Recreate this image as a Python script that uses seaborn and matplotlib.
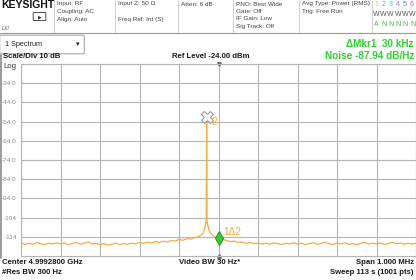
import numpy as np
import pandas as pd
import matplotlib
matplotlib.use("Agg")
import matplotlib.pyplot as plt
import seaborn as sns
from matplotlib.patches import FancyBboxPatch
from matplotlib.lines import Line2D

# trace: offset from center (MHz) and level (dBm)
freq_mhz = [
    -0.50, -0.49, -0.48, -0.47, -0.46, -0.45, -0.44, -0.43, -0.42, -0.41,
    -0.40, -0.39, -0.38, -0.37, -0.36, -0.35, -0.34, -0.33, -0.32, -0.31,
    -0.30, -0.29, -0.28, -0.27, -0.26, -0.25, -0.24, -0.23, -0.22, -0.21,
    -0.20, -0.19, -0.18, -0.17, -0.16, -0.15, -0.14, -0.13, -0.12, -0.11,
    -0.10, -0.09, -0.08, -0.07, -0.06, -0.05, -0.045, -0.04, -0.036, -0.034,
    -0.032, -0.031, -0.030, -0.029, -0.028, -0.026, -0.024, -0.02, -0.015, -0.01,
    -0.005, 0.00, 0.01, 0.02, 0.03, 0.04, 0.05, 0.06, 0.07, 0.08,
    0.09, 0.10, 0.11, 0.12, 0.13, 0.14, 0.15, 0.16, 0.17, 0.18,
    0.19, 0.20, 0.21, 0.22, 0.23, 0.24, 0.25, 0.26, 0.27, 0.28,
    0.29, 0.30, 0.31, 0.32, 0.33, 0.34, 0.35, 0.36, 0.37, 0.38,
    0.39, 0.40, 0.41, 0.42, 0.43, 0.44, 0.45, 0.46, 0.47, 0.48,
    0.49, 0.50,
]
level_dbm = [
    -117.2, -118.0, -117.4, -117.9, -117.0, -117.6, -118.1, -117.3, -117.8, -117.1,
    -117.7, -117.2, -118.2, -117.5, -117.0, -117.9, -117.3, -116.6, -117.8, -117.4,
    -118.0, -117.6, -118.3, -117.9, -117.2, -118.1, -117.6, -117.9, -117.3, -117.7,
    -117.0, -117.4, -116.8, -117.2, -116.5, -116.9, -116.3, -116.7, -116.0, -116.2,
    -115.4, -115.8, -115.0, -115.2, -114.4, -113.9, -113.2, -112.4, -110.5, -108.6,
    -106.8, -105.2, -51.5, -105.6, -107.2, -108.9, -110.4, -112.0, -113.3, -114.0,
    -114.4, -114.7, -115.3, -115.9, -116.5, -116.2, -116.9, -116.7, -117.4, -117.0,
    -117.6, -117.2, -117.8, -117.3, -117.9, -117.1, -117.6, -118.0, -117.4, -117.7,
    -117.1, -117.8, -117.3, -118.1, -117.5, -117.2, -117.9, -117.4, -116.8, -117.6,
    -118.0, -117.3, -117.7, -117.1, -117.9, -117.5, -118.2, -117.4, -117.0, -117.8,
    -117.3, -117.7, -117.2, -118.0, -117.5, -116.9, -117.6, -117.2, -117.9, -117.4,
    -117.8, -117.3,
]

y_ticks = [-34, -44, -54, -64, -74, -84, -94, -104, -114]
y_tick_labels = ["-34.0", "-44.0", "-54.0", "-64.0", "-74.0", "-84.0", "-94.0", "-104", "-114"]

mkr2 = (-0.030, -51.5)
mkr1 = (0.00, -114.7)

TRACE = "#f4ad3d"
GREEN = "#2fd12f"
GRID = "#b4b4b4"

sns.set_theme(style="white")
plt.rcParams["font.family"] = ["Liberation Sans", "DejaVu Sans"]

df = pd.DataFrame({"freq": freq_mhz, "level": level_dbm})

W, H = 416, 280
fig = plt.figure(figsize=(W / 100, H / 100), dpi=100)
ax = fig.add_axes([21 / W, 24 / H, 395 / W, 192 / H])

sns.lineplot(data=df, x="freq", y="level", ax=ax, color=TRACE, linewidth=0.9)

ax.set_xlim(-0.5, 0.5)
ax.set_ylim(-124, -24)
ax.set_xticks([-0.5 + 0.1 * i for i in range(11)])
ax.set_xticklabels([])
ax.set_yticks(y_ticks)
ax.set_yticklabels(y_tick_labels, fontsize=4.6, color="#8a8a8a")
ax.tick_params(axis="both", length=0, pad=3)
ax.grid(True, color=GRID, linewidth=0.8)
for s in ax.spines.values():
    s.set_color(GRID)
    s.set_linewidth(0.8)
ax.set_xlabel("")
ax.set_ylabel("")

# markers
ax.plot(*mkr2, marker="X", ms=8, mfc="white", mec="#9a9a9a", mew=0.8, zorder=5)
ax.text(mkr2[0] + 0.011, mkr2[1] - 4.5, "2", color=TRACE, fontsize=7.5, zorder=6)
ax.plot(*mkr1, marker="d", ms=7, mfc=GREEN, mec="#1f8f1f", mew=0.7, zorder=5)
ax.text(mkr1[0] + 0.012, mkr1[1] + 1.5, "1\u03942", color=TRACE, fontsize=7.2, zorder=6)
ax.plot(0, -24, marker="v", ms=2.5, color="#666666", clip_on=False)
ax.plot(0, -124, marker="^", ms=2.5, color="#666666", clip_on=False)


def ft(x, y, s, **kw):
    fig.text(x / W, 1 - y / H, s, va="center", **kw)


# header
for xs in [54, 115, 178, 233, 299, 372]:
    fig.add_artist(Line2D([xs / W] * 2, [1, 1 - 33 / H], color="#c8c8c8", lw=0.6))
fig.add_artist(Line2D([0, 1], [1 - 33 / H] * 2, color="#9a9a9a", lw=0.8))
fig.add_artist(Line2D([1 / W] * 2, [1 - 55 / H, 1 - 258 / H], color="#8a8a8a", lw=1.2))

ft(1, 5, "KEYSIGHT", fontsize=7.5, fontweight="bold", color="#111111")
fig.add_artist(FancyBboxPatch((34 / W, 1 - 20 / H), 11 / W, 7 / H,
                              boxstyle="round,pad=0.002", fc="white", ec="#333333", lw=0.6))
ft(37.5, 16.5, "\u25b6", fontsize=3.5, color="#333333", family=["DejaVu Sans"])
ft(2, 29, "LXI", fontsize=3.8, style="italic", color="#555555")

small = dict(fontsize=4.6, color="#444444")
ft(57, 4, "Input: RF", **small)
ft(57, 12, "Coupling: AC", **small)
ft(57, 20, "Align: Auto", **small)
ft(118, 4, "Input Z: 50 \u03a9", **small)
ft(118, 20, "Freq Ref: Int (S)", **small)
ft(181, 4, "Atten: 6 dB", **small)
ft(236, 4, "PNO: Best Wide", **small)
ft(236, 11.5, "Gate: Off", **small)
ft(236, 19, "IF Gain: Low", **small)
ft(236, 26.5, "Sig Track: Off", **small)
ft(302, 4, "Avg Type: Power (RMS)", **small)
ft(302, 11.5, "Trig: Free Run", **small)

trace_cols = ["#f0c030", "#20c8c8", "#40b8e8", "#b070e0", "#4a86e8", "#c050d0"]
for i, c in enumerate(trace_cols):
    ft(374 + 7.2 * i, 5, str(i + 1), fontsize=5, color=c)
    ft(373 + 7.2 * i, 15, "W", fontsize=5, color="#555555")
    ft(374 + 7.2 * i, 25, "A" if i == 0 else "N", fontsize=5, color="#3cbf3c")

# spectrum selector box
fig.add_artist(FancyBboxPatch((1 / W, 1 - 53 / H), 82 / W, 17 / H,
                              boxstyle="round,pad=0.003", fc="white", ec="#9a9a9a", lw=0.7))
ft(5, 44.5, "1 Spectrum", fontsize=5.2, color="#222222")
ft(76, 44.5, "\u25be", fontsize=5, color="#222222", family=["DejaVu Sans"])

bold = dict(fontsize=5.6, fontweight="bold", color="#1a1a1a")
ft(3, 57, "Scale/Div 10 dB", **bold)
ft(172, 57, "Ref Level -24.00 dBm", **bold)
ft(414, 44, "\u0394Mkr1  30 kHz", ha="right", fontsize=7.2, fontweight="bold", color=GREEN)
ft(414, 56, "Noise -87.94 dB/Hz", ha="right", fontsize=7.2, fontweight="bold", color=GREEN)
ft(3, 66, "Log", fontsize=5.6, color="#333333")

ft(2, 262, "Center 4.9992800 GHz", **bold)
ft(2, 273, "#Res BW 300 Hz", **bold)
ft(179, 262, "Video BW 30 Hz*", **bold)
ft(414, 262, "Span 1.000 MHz", ha="right", **bold)
ft(414, 273, "Sweep 113 s (1001 pts)", ha="right", **bold)

fig.savefig("out.png", dpi=100)
